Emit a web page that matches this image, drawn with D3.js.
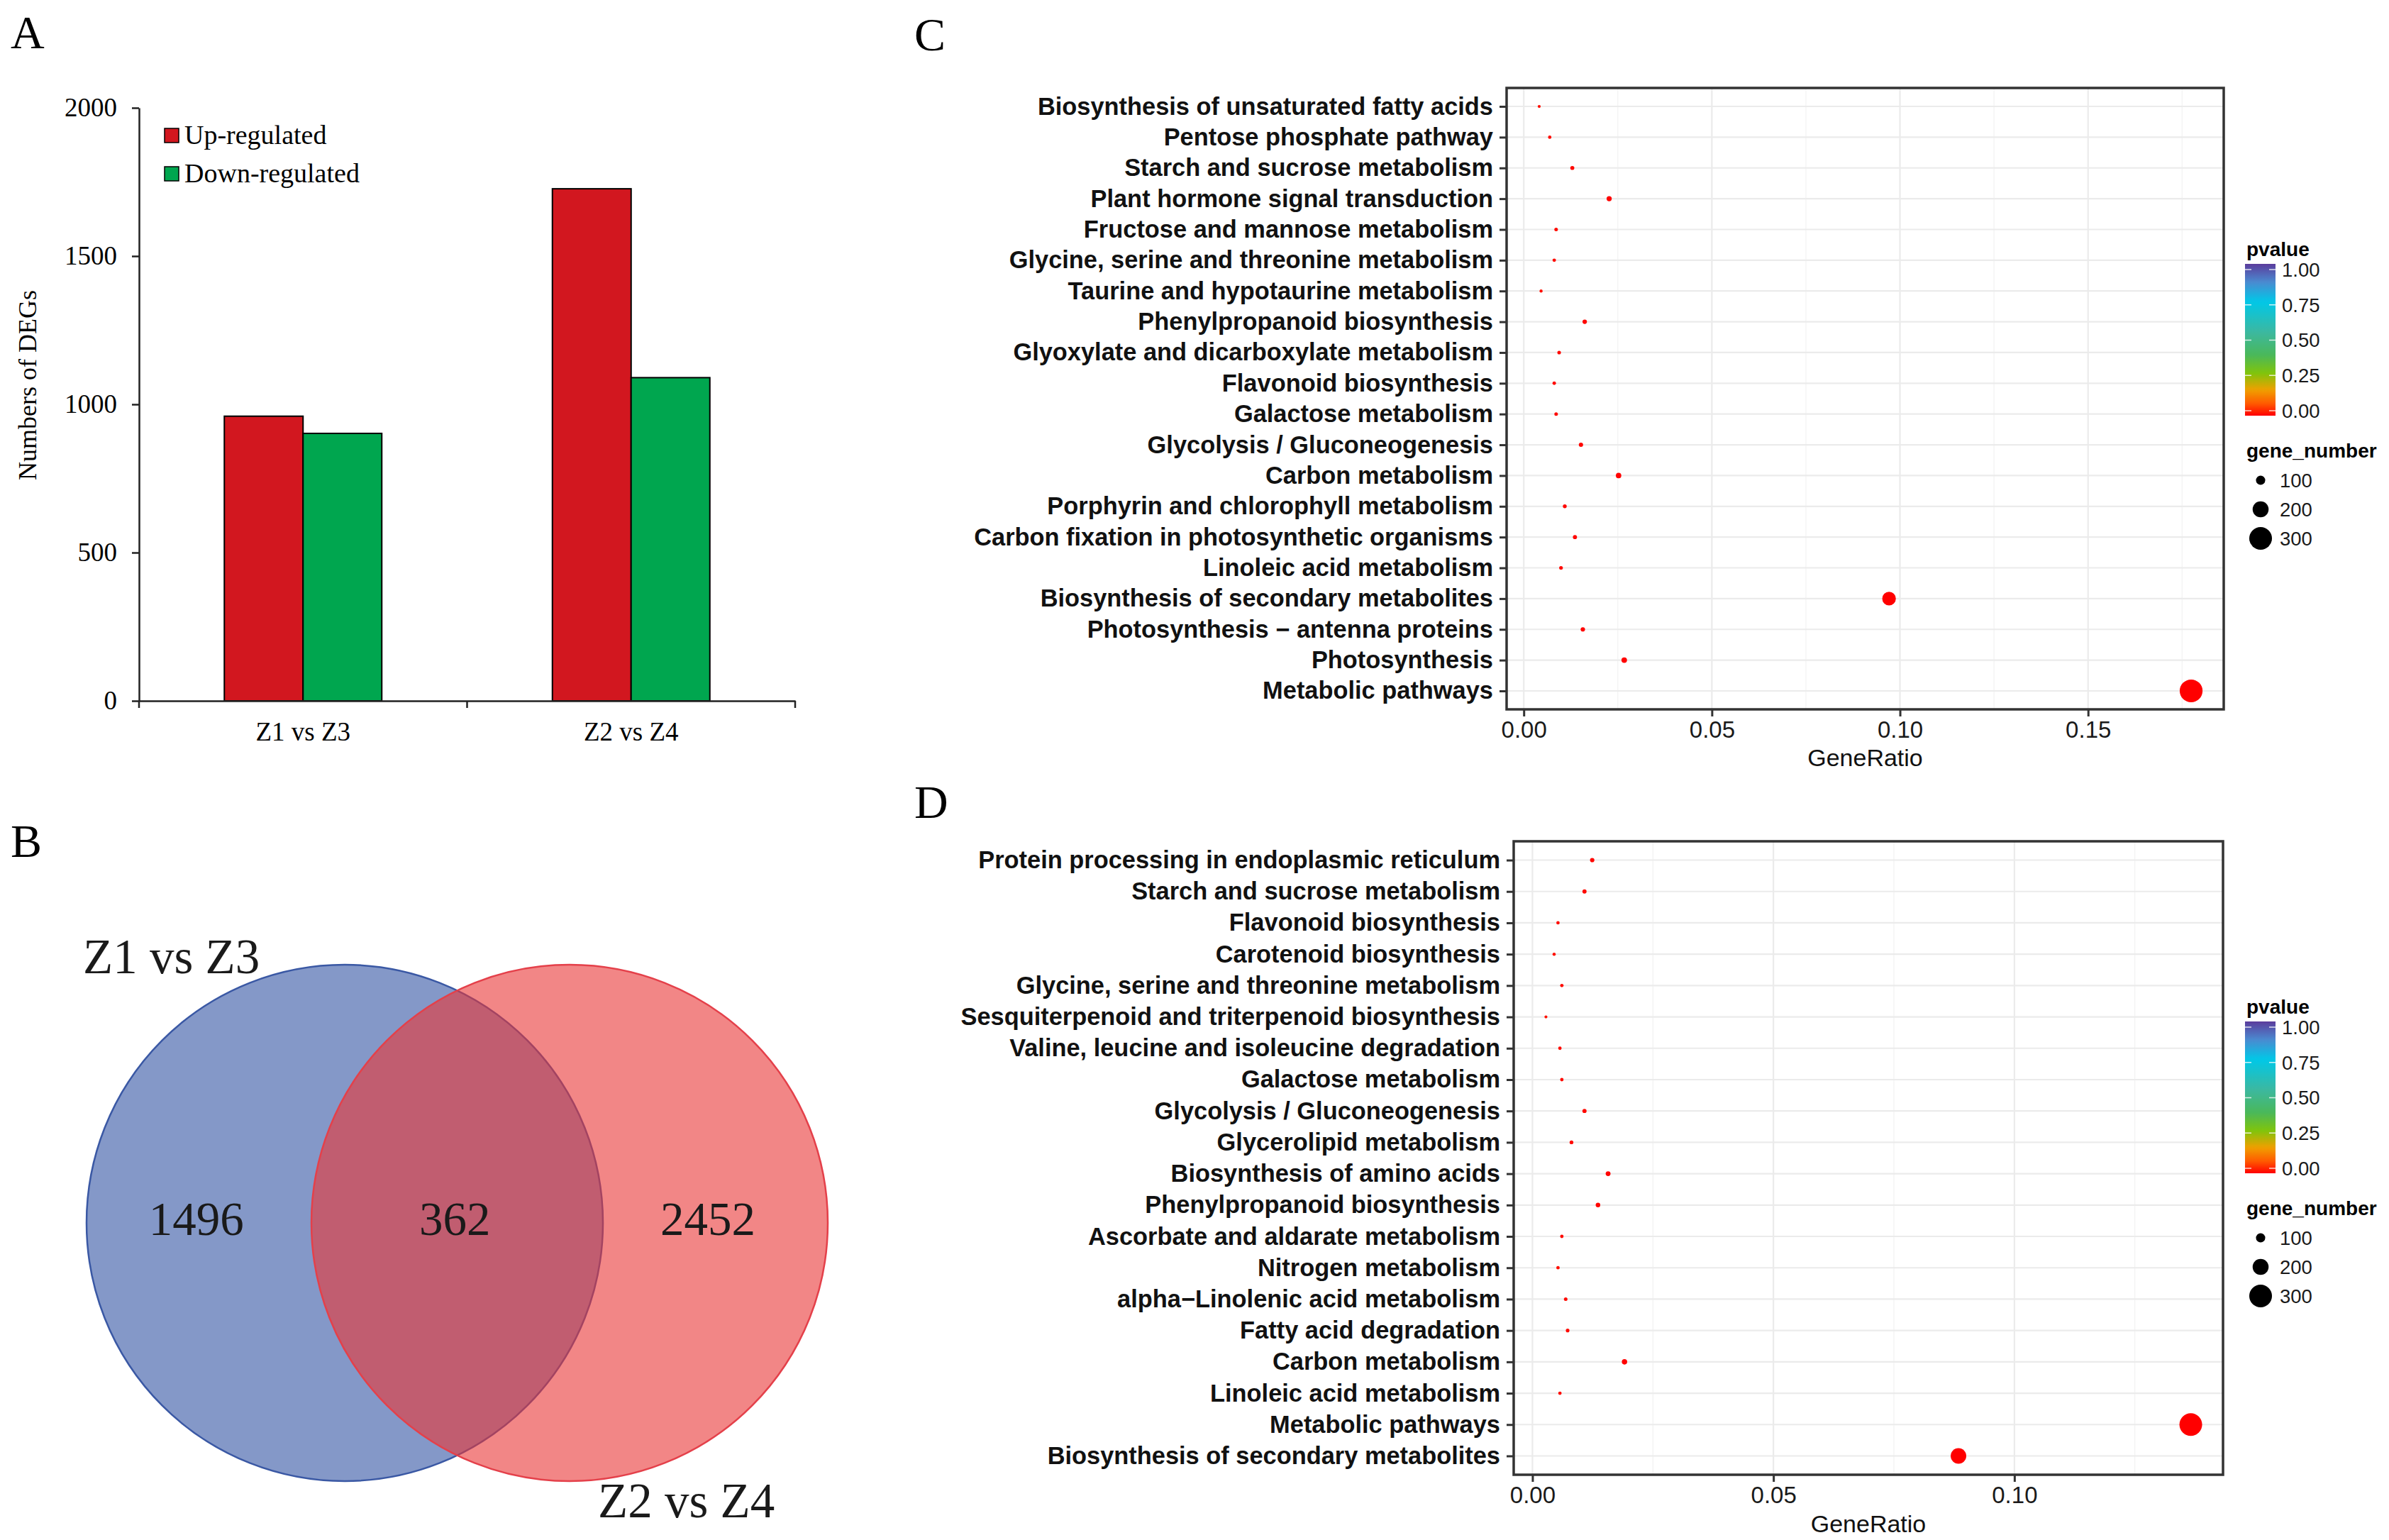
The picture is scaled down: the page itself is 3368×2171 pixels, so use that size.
<!doctype html>
<html>
<head>
<meta charset="utf-8">
<title>DEG figure</title>
<script src="https://cdn.jsdelivr.net/npm/d3@7"></script>
<style>
body { margin: 0; background: #fff; }
.serif { font-family: "Liberation Serif", "Times New Roman", serif; }
.sans { font-family: "Liberation Sans", Arial, sans-serif; }
</style>
</head>
<body>
<script>
// ---------- panel A : numbers of DEGs
var comparisons = ["Z1 vs Z3", "Z2 vs Z4"];
var regulation = ["Up-regulated", "Down-regulated"];
var upCounts = [960, 1727];
var downCounts = [902, 1090];
var countTicks = [0, 500, 1000, 1500, 2000];

// ---------- panel B : venn
var vennSets = ["Z1 vs Z3", "Z2 vs Z4"];
var vennOnly = [1496, 2452];
var vennShared = 362;

// ---------- panel C : KEGG enrichment Z1 vs Z3
var pathwaysC = ["Biosynthesis of unsaturated fatty acids", "Pentose phosphate pathway",
  "Starch and sucrose metabolism", "Plant hormone signal transduction",
  "Fructose and mannose metabolism", "Glycine, serine and threonine metabolism",
  "Taurine and hypotaurine metabolism", "Phenylpropanoid biosynthesis",
  "Glyoxylate and dicarboxylate metabolism", "Flavonoid biosynthesis",
  "Galactose metabolism", "Glycolysis / Gluconeogenesis", "Carbon metabolism",
  "Porphyrin and chlorophyll metabolism", "Carbon fixation in photosynthetic organisms",
  "Linoleic acid metabolism", "Biosynthesis of secondary metabolites",
  "Photosynthesis \u2212 antenna proteins", "Photosynthesis", "Metabolic pathways"];
var ratioC = [0.0041, 0.0069, 0.0129, 0.0227, 0.0086, 0.0081, 0.0046, 0.0162, 0.0094, 0.0081,
  0.0086, 0.0152, 0.0252, 0.0109, 0.0136, 0.0099, 0.0971, 0.0157, 0.0267, 0.1774];
var genesC = [7, 12, 22, 39, 15, 14, 8, 28, 16, 14, 15, 26, 43, 19, 23, 17, 165, 27, 45, 302];
var pvalC = [0.012, 0.010, 0.006, 0.002, 0.009, 0.011, 0.014, 0.004, 0.008, 0.010,
  0.009, 0.005, 0.001, 0.007, 0.006, 0.008, 0.000, 0.003, 0.001, 0.000];
var ratioTicksC = [0, 0.05, 0.10, 0.15];

// ---------- panel D : KEGG enrichment Z2 vs Z4
var pathwaysD = ["Protein processing in endoplasmic reticulum", "Starch and sucrose metabolism",
  "Flavonoid biosynthesis", "Carotenoid biosynthesis", "Glycine, serine and threonine metabolism",
  "Sesquiterpenoid and triterpenoid biosynthesis", "Valine, leucine and isoleucine degradation",
  "Galactose metabolism", "Glycolysis / Gluconeogenesis", "Glycerolipid metabolism",
  "Biosynthesis of amino acids", "Phenylpropanoid biosynthesis", "Ascorbate and aldarate metabolism",
  "Nitrogen metabolism", "alpha\u2212Linolenic acid metabolism", "Fatty acid degradation",
  "Carbon metabolism", "Linoleic acid metabolism", "Metabolic pathways",
  "Biosynthesis of secondary metabolites"];
var ratioD = [0.0124, 0.0108, 0.0053, 0.0045, 0.0061, 0.0028, 0.0057, 0.0061, 0.0108, 0.0081,
  0.0157, 0.0136, 0.0061, 0.0053, 0.0069, 0.0073, 0.0191, 0.0057, 0.1366, 0.0884];
var genesD = [27, 24, 12, 10, 13, 6, 13, 13, 24, 18, 34, 30, 13, 12, 15, 16, 42, 13, 300, 194];
var pvalD = [0.006, 0.008, 0.012, 0.013, 0.010, 0.015, 0.011, 0.010, 0.007, 0.009,
  0.003, 0.004, 0.010, 0.012, 0.009, 0.009, 0.001, 0.011, 0.000, 0.000];
var ratioTicksD = [0, 0.05, 0.10];

var pvalueTicks = [0, 0.25, 0.5, 0.75, 1];
var sizeKeys = [100, 200, 300];

var W = 3368, H = 2171;
var svg = d3.select("body").append("svg")
  .attr("width", W).attr("height", H)
  .attr("viewBox", "0 0 " + W + " " + H);

// panel letters
var letters = [["A", 15, 68], ["B", 15, 1208], ["C", 1289, 71], ["D", 1289, 1153]];
svg.selectAll(".letter").data(letters).enter().append("text")
  .attr("class", "letter serif")
  .attr("x", function(d) { return d[1]; })
  .attr("y", function(d) { return d[2]; })
  .attr("font-size", 66)
  .text(function(d) { return d[0]; });

// ================= A =================
(function() {
  var g = svg.append("g");
  var bars = comparisons.map(function(c, i) {
    return [{ cat: c, key: regulation[0], v: upCounts[i] }, { cat: c, key: regulation[1], v: downCounts[i] }];
  });
  var barColor = d3.scaleOrdinal().domain(regulation).range(["#d2171f", "#00a64f"]);

  var x = d3.scaleBand().domain(comparisons).range([196, 1121])
    .paddingInner(0.52).paddingOuter(0.26);
  var xs = d3.scaleBand().domain(regulation).range([0, x.bandwidth()]);
  var y = d3.scaleLinear().domain([0, 2000]).range([988, 152]);

  g.selectAll(".grp").data(bars).enter().append("g")
    .attr("transform", function(d) { return "translate(" + x(d[0].cat) + ",0)"; })
    .selectAll("rect").data(function(d) { return d; }).enter().append("rect")
    .attr("x", function(d) { return xs(d.key); })
    .attr("width", xs.bandwidth())
    .attr("y", function(d) { return y(d.v); })
    .attr("height", function(d) { return y(0) - y(d.v); })
    .attr("fill", function(d) { return barColor(d.key); })
    .attr("stroke", "#000").attr("stroke-width", 2);

  var ya = g.append("g").attr("class", "serif")
    .attr("transform", "translate(196,0)")
    .call(d3.axisLeft(y).tickValues(countTicks).tickFormat(d3.format("d"))
      .tickSize(10).tickSizeOuter(0).tickPadding(21));
  ya.selectAll("text").attr("font-size", 37).attr("fill", "#000");
  ya.selectAll("line,path").attr("stroke", "#222").attr("stroke-width", 2.5);

  var xa = g.append("g").attr("class", "serif")
    .attr("transform", "translate(0,988)")
    .call(d3.axisBottom(x).tickSize(0).tickSizeOuter(0).tickPadding(30));
  xa.selectAll("text").attr("font-size", 37).attr("fill", "#000");
  xa.select("path").attr("stroke", "#222").attr("stroke-width", 2.5);
  // category boundary ticks
  var bounds = [x.range()[0]].concat(comparisons.map(function(c) {
    return x(c) + x.bandwidth() + x.step() * x.paddingInner() / 2;
  }));
  bounds[bounds.length - 1] = x.range()[1];
  g.selectAll(".btick").data(bounds).enter().append("line")
    .attr("x1", function(d) { return d; }).attr("x2", function(d) { return d; })
    .attr("y1", 988).attr("y2", 998)
    .attr("stroke", "#222").attr("stroke-width", 2.5);

  g.append("text").attr("class", "serif")
    .attr("transform", "translate(51,543) rotate(-90)")
    .attr("text-anchor", "middle").attr("font-size", 36)
    .text("Numbers of DEGs");

  var lg = g.selectAll(".lg").data(regulation).enter().append("g")
    .attr("transform", function(d, i) { return "translate(232," + (181 + i * 54) + ")"; });
  lg.append("rect").attr("width", 20).attr("height", 20)
    .attr("fill", function(d) { return barColor(d); })
    .attr("stroke", "#000").attr("stroke-width", 1.5);
  lg.append("text").attr("class", "serif").attr("x", 28).attr("y", 22)
    .attr("font-size", 38).text(function(d) { return d; });
})();

// ================= B =================
(function() {
  var g = svg.append("g");
  var cx = d3.scaleLinear().domain([0, 1]).range([486, 803]);
  var circles = [
    { name: vennSets[0], fill: "#3253a3", stroke: "#3a58a4", pos: 0 },
    { name: vennSets[1], fill: "#e93636", stroke: "#e4404a", pos: 1 }
  ];
  g.selectAll("circle").data(circles).enter().append("circle")
    .attr("cx", function(d) { return cx(d.pos); })
    .attr("cy", 1724).attr("r", 364)
    .attr("fill", function(d) { return d.fill; }).attr("fill-opacity", 0.6)
    .attr("stroke", function(d) { return d.stroke; }).attr("stroke-width", 2.5);

  var counts = [
    { v: vennOnly[0], pos: -0.66 },
    { v: vennShared, pos: 0.49 },
    { v: vennOnly[1], pos: 1.615 }
  ];
  g.selectAll(".cnt").data(counts).enter().append("text")
    .attr("class", "serif").attr("text-anchor", "middle")
    .attr("x", function(d) { return cx(d.pos); }).attr("y", 1741)
    .attr("font-size", 67).attr("fill", "#1a1a1a")
    .text(function(d) { return d.v; });

  var names = [
    { t: vennSets[0], x: 117, y: 1372 },
    { t: vennSets[1], x: 843, y: 2139 }
  ];
  g.selectAll(".nm").data(names).enter().append("text")
    .attr("class", "serif")
    .attr("x", function(d) { return d.x; }).attr("y", function(d) { return d.y; })
    .attr("font-size", 69).attr("fill", "#1a1a1a")
    .text(function(d) { return d.t; });
})();

// ================= C and D =================
var pColor = d3.scaleLinear()
  .domain([0, 0.08, 0.17, 0.28, 0.4, 0.55, 0.75, 0.88, 1])
  .range(["#ff0000", "#ff5a00", "#f0a000", "#80c40c", "#4ab85a", "#3cb8a0", "#00c8e8", "#4a8ad0", "#5b3c9c"]);

var defs = svg.append("defs");
var grad = defs.append("linearGradient").attr("id", "pgrad")
  .attr("x1", 0).attr("y1", 1).attr("x2", 0).attr("y2", 0);
grad.selectAll("stop").data(d3.range(0, 1.001, 0.02)).enter().append("stop")
  .attr("offset", function(d) { return d; })
  .attr("stop-color", function(d) { return pColor(d); });

var rSize = d3.scaleLinear().domain([0, 300]).range([1.8, 16]);

function dotPanel(o) {
  var g = svg.append("g");
  var ext = d3.extent(o.ratio), pad = (ext[1] - ext[0]) * 0.05;
  var x = d3.scaleLinear().domain([ext[0] - pad, ext[1] + pad]).range([o.left, o.right]);
  var y = d3.scalePoint().domain(o.names).range([o.top, o.bottom]).padding(0.6);

  var step = o.ticks[1] - o.ticks[0];
  var minor = o.ticks.map(function(t) { return t + step / 2; })
    .concat([o.ticks[0] - step / 2])
    .filter(function(t) { return t > x.domain()[0] && t < x.domain()[1]; });

  g.selectAll(".minor").data(minor).enter().append("line")
    .attr("x1", x).attr("x2", x).attr("y1", o.top).attr("y2", o.bottom)
    .attr("stroke", "#f2f2f2").attr("stroke-width", 1.2);
  g.selectAll(".major").data(o.ticks).enter().append("line")
    .attr("x1", x).attr("x2", x).attr("y1", o.top).attr("y2", o.bottom)
    .attr("stroke", "#ebebeb").attr("stroke-width", 2.2);
  g.selectAll(".hgrid").data(o.names).enter().append("line")
    .attr("x1", o.left).attr("x2", o.right)
    .attr("y1", y).attr("y2", y)
    .attr("stroke", "#ebebeb").attr("stroke-width", 2.2);

  var pts = o.names.map(function(n, i) {
    return { name: n, ratio: o.ratio[i], genes: o.genes[i], p: o.pval[i] };
  });
  g.selectAll(".dot").data(pts).enter().append("circle")
    .attr("cx", function(d) { return x(d.ratio); })
    .attr("cy", function(d) { return y(d.name); })
    .attr("r", function(d) { return rSize(d.genes); })
    .attr("fill", function(d) { return pColor(d.p); });

  g.append("rect").attr("x", o.left).attr("y", o.top)
    .attr("width", o.right - o.left).attr("height", o.bottom - o.top)
    .attr("fill", "none").attr("stroke", "#333").attr("stroke-width", 3.5);

  var ya = g.append("g").attr("class", "sans")
    .attr("transform", "translate(" + o.left + ",0)")
    .call(d3.axisLeft(y).tickSize(10).tickPadding(9));
  ya.select(".domain").remove();
  ya.selectAll("line").attr("stroke", "#333").attr("stroke-width", 3);
  ya.selectAll("text").attr("font-size", 34.4).attr("font-weight", "bold").attr("fill", "#111");

  var xa = g.append("g").attr("class", "sans")
    .attr("transform", "translate(0," + o.bottom + ")")
    .call(d3.axisBottom(x).tickValues(o.ticks).tickFormat(d3.format(".2f")).tickSize(10).tickPadding(7));
  xa.select(".domain").remove();
  xa.selectAll("line").attr("stroke", "#333").attr("stroke-width", 3);
  xa.selectAll("text").attr("font-size", 33).attr("fill", "#1a1a1a");

  g.append("text").attr("class", "sans")
    .attr("x", (o.left + o.right) / 2).attr("y", o.titleY)
    .attr("text-anchor", "middle").attr("font-size", 34).attr("fill", "#111")
    .text("GeneRatio");

  // legends
  var off = o.legendOffset;
  var lg = g.append("g").attr("class", "sans").attr("transform", "translate(0," + off + ")");
  lg.append("text").attr("x", 3167).attr("y", 361)
    .attr("font-size", 28).attr("font-weight", "bold").text("pvalue");
  lg.append("rect").attr("x", 3165).attr("y", 372).attr("width", 43).attr("height", 214)
    .attr("fill", "url(#pgrad)");
  var py = d3.scaleLinear().domain([0, 1]).range([579, 380]);
  var pt = lg.selectAll(".pt").data(pvalueTicks).enter().append("g");
  pt.append("line").attr("x1", 3165).attr("x2", 3174)
    .attr("y1", py).attr("y2", py).attr("stroke", "#fff").attr("stroke-width", 1.5).attr("opacity", 0.8);
  pt.append("line").attr("x1", 3199).attr("x2", 3208)
    .attr("y1", py).attr("y2", py).attr("stroke", "#fff").attr("stroke-width", 1.5).attr("opacity", 0.8);
  pt.append("text").attr("x", 3217).attr("y", py).attr("dy", "0.36em")
    .attr("font-size", 27.5).attr("fill", "#1a1a1a")
    .text(d3.format(".2f"));

  lg.append("text").attr("x", 3167).attr("y", 645)
    .attr("font-size", 28).attr("font-weight", "bold").text("gene_number");
  var ky = d3.scalePoint().domain(sizeKeys).range([677, 759]);
  var sk = lg.selectAll(".sk").data(sizeKeys).enter().append("g");
  sk.append("circle").attr("cx", 3187).attr("cy", ky).attr("r", rSize).attr("fill", "#000");
  sk.append("text").attr("x", 3214).attr("y", ky).attr("dy", "0.36em")
    .attr("font-size", 27.5).attr("fill", "#1a1a1a").text(function(d) { return d; });
}

dotPanel({ names: pathwaysC, ratio: ratioC, genes: genesC, pval: pvalC, ticks: ratioTicksC,
  left: 2124, right: 3135, top: 124, bottom: 1000, titleY: 1080, legendOffset: 0 });
dotPanel({ names: pathwaysD, ratio: ratioD, genes: genesD, pval: pvalD, ticks: ratioTicksD,
  left: 2134, right: 3134, top: 1186, bottom: 2079, titleY: 2160, legendOffset: 1068 });
</script>
</body>
</html>
